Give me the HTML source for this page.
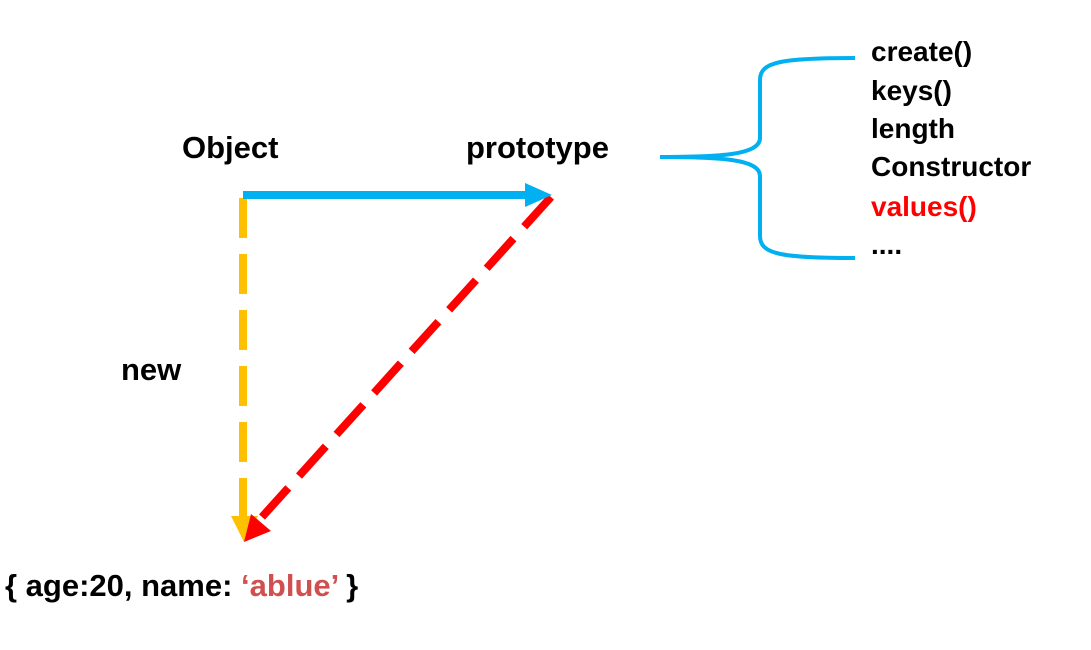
<!DOCTYPE html>
<html><head><style>
body{margin:0;width:1091px;height:650px;background:#fff;overflow:hidden;position:relative;font-family:"Liberation Sans",sans-serif;font-weight:bold;}
.t{position:absolute;font-size:31px;line-height:38px;color:#000;white-space:nowrap;}
.l{position:absolute;left:871px;font-size:28px;line-height:38px;white-space:nowrap;}
</style></head><body>
<svg width="1091" height="650" style="position:absolute;left:0;top:0">
<line x1="243" y1="198" x2="243" y2="518" stroke="#FFC000" stroke-width="8" stroke-dasharray="40,16"/>
<polygon points="231,516 258,516 244,542" fill="#FFC000"/>
<line x1="551" y1="197" x2="262" y2="517" stroke="#FF0000" stroke-width="8" stroke-dasharray="40,16"/>
<polygon points="251,514 271,531 244,542" fill="#FF0000"/>
<line x1="243" y1="195" x2="530" y2="195" stroke="#00B0F0" stroke-width="8"/>
<polygon points="525,183 525,207 552,195" fill="#00B0F0"/>
<path d="M660,157 C720,157 760,155 760,138 L760,80 C760,62 780,58 855,58 M660,157 C720,157 760,159 760,176 L760,236 C760,254 780,258 855,258" fill="none" stroke="#00B0F0" stroke-width="4"/>
</svg>
<div class="t" style="left:182px;top:129px">Object</div>
<div class="t" style="left:466px;top:129px">prototype</div>
<div class="t" style="left:121px;top:351px">new</div>
<div class="t" style="left:5px;top:567px">{ age:20, name: <span style="color:#D05050">‘ablue’</span> }</div>
<div class="l" style="top:33px">create()</div>
<div class="l" style="top:72px">keys()</div>
<div class="l" style="top:110px">length</div>
<div class="l" style="top:148px">Constructor</div>
<div class="l" style="top:188px;color:#FF0000">values()</div>
<div class="l" style="top:226px">....</div>
</body></html>
